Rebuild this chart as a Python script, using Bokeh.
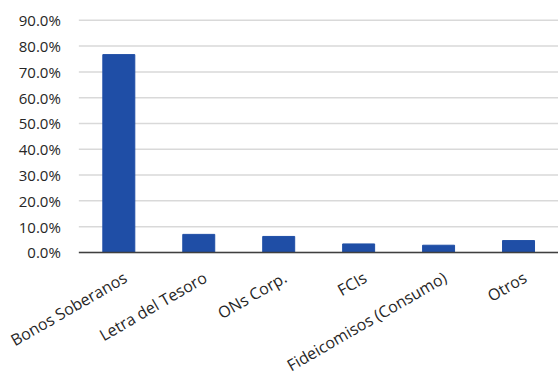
import math
from bokeh.plotting import figure
from bokeh.models import ColumnDataSource, Range1d, LabelSet
from bokeh.core.properties import value
from bokeh.embed import file_html
from bokeh.resources import INLINE

categories = ["Bonos Soberanos", "Letra del Tesoro", "ONs Corp.", "FCIs",
              "Fideicomisos (Consumo)", "Otros"]
values = [0.767, 0.070, 0.062, 0.033, 0.028, 0.046]
y_ticks = [0.0, 0.1, 0.2, 0.3, 0.4, 0.5, 0.6, 0.7, 0.8, 0.9]
y_tick_labels = [f"{t * 100:.1f}%" for t in y_ticks]

FONT = "Open Sans"
TEXT_COLOR = "#262626"
n = len(categories)

# category i is centred at i + 0.5; the frame covers the whole figure so the
# rotated category labels and the tick labels are drawn inside it (not clipped)
bars = ColumnDataSource(dict(x=[i + 0.5 for i in range(n)], val=values,
                             cat=categories, zero=[0.0] * n))
ticks = ColumnDataSource(dict(y=y_ticks, label=y_tick_labels,
                              x0=[0.0] * len(y_ticks), x1=[float(n)] * len(y_ticks)))

p = figure(x_range=Range1d(-0.98, n), y_range=Range1d(-0.4616, 0.9768),
           width=558, height=371, output_backend="svg", toolbar_location=None,
           x_axis_location=None, y_axis_location=None,
           min_border_left=0, min_border_right=0, min_border_top=0,
           min_border_bottom=0)
p.outline_line_color = None
p.grid.visible = False

# horizontal gridlines at the tick values
p.segment(x0="x0", x1="x1", y0="y", y1="y", source=ticks,
          line_color="#D9D9D9", line_width=1.5)

p.vbar(x="x", top="val", width=0.4, source=bars, color="#1F4EA6",
       line_color="#1F4EA6")

# category axis line at zero
p.segment(x0=[0.0], x1=[float(n)], y0=[0.0], y1=[0.0], line_color="#404040",
          line_width=1.5)

p.add_layout(LabelSet(x="x0", y="y", text="label", source=ticks,
                      x_offset=-18, y_offset=0, text_align="right",
                      text_baseline="middle", text_font=value(FONT),
                      text_font_size="15px", text_color=TEXT_COLOR))

p.add_layout(LabelSet(x="x", y="zero", text="cat", source=bars, angle=math.pi / 6,
                      x_offset=1, y_offset=-14, text_align="right",
                      text_baseline="top", text_font=value(FONT),
                      text_font_size="16px", text_color=TEXT_COLOR))

open("out.html", "w").write(file_html(p, INLINE))
